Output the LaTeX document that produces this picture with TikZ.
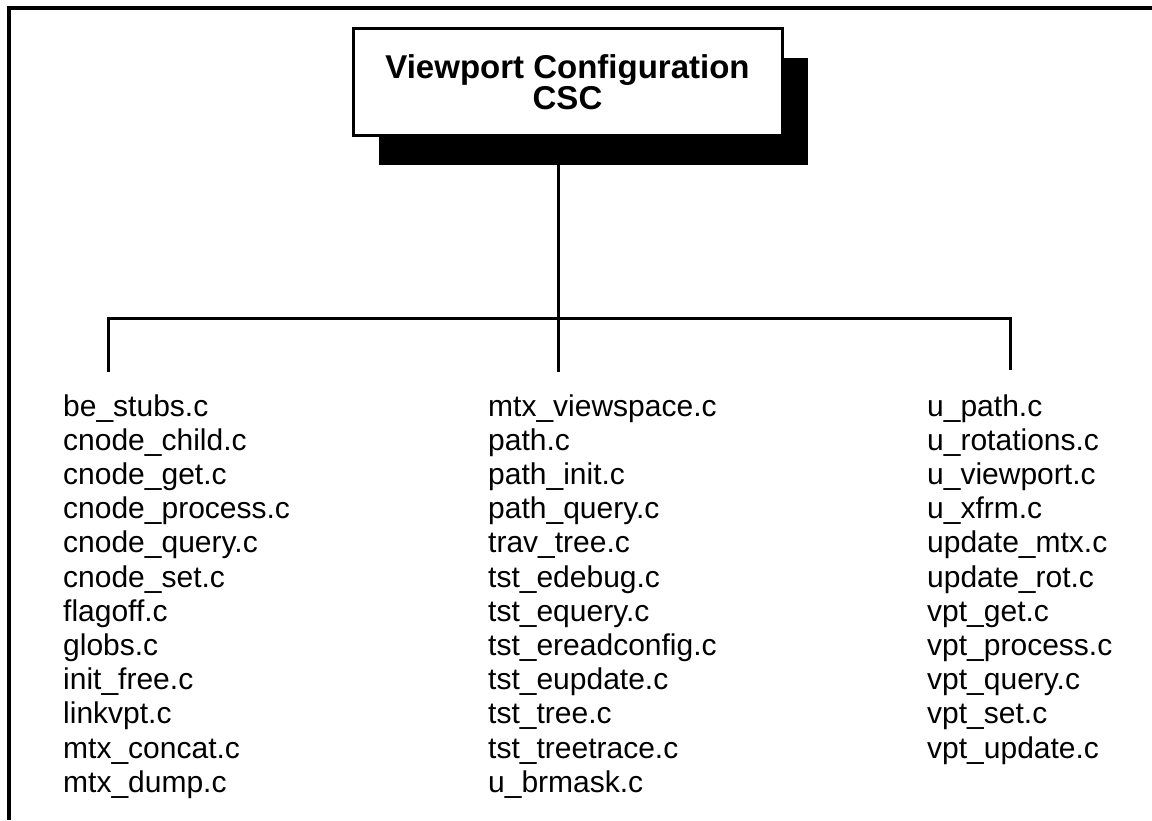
\documentclass[tikz,border=0pt]{standalone}
\usepackage{fontspec}
\setmainfont{Liberation Sans}
\usetikzlibrary{shadows}
\begin{document}
\begin{tikzpicture}[x=1pt,y=-1pt,
  frame/.style={line width=4pt, line join=miter},
  conn/.style={line width=3pt},
  titlebox/.style={draw, line width=3pt, fill=white,
    minimum width=429pt, minimum height=107pt, inner sep=0pt,
    align=center, font=\fontsize{33}{29}\selectfont\bfseries,
    general shadow={fill=black, shadow xshift=26pt, shadow yshift=-29pt}},
  filelist/.style={anchor=north west, inner sep=0pt, align=left,
    font=\fontsize{30}{34.2}\selectfont}]
\useasboundingbox (0,0) rectangle (1152,820);

% outer frame (top and left edges)
\draw[frame] (9,820) -- (9,8) -- (1152,8);

% top-level component
\node[titlebox] (box) at (567.5,82) {Viewport Configuration\\CSC};

% the three groups of source files
\node[filelist] (col1) at (63,392) {\strut be\_stubs.c\\cnode\_child.c\\cnode\_get.c\\cnode\_process.c\\cnode\_query.c\\cnode\_set.c\\flagoff.c\\globs.c\\init\_free.c\\linkvpt.c\\mtx\_concat.c\\mtx\_dump.c};
\node[filelist] (col2) at (488,392) {\strut mtx\_viewspace.c\\path.c\\path\_init.c\\path\_query.c\\trav\_tree.c\\tst\_edebug.c\\tst\_equery.c\\tst\_ereadconfig.c\\tst\_eupdate.c\\tst\_tree.c\\tst\_treetrace.c\\u\_brmask.c};
\node[filelist] (col3) at (927,392) {\strut u\_path.c\\u\_rotations.c\\u\_viewport.c\\u\_xfrm.c\\update\_mtx.c\\update\_rot.c\\vpt\_get.c\\vpt\_process.c\\vpt\_query.c\\vpt\_set.c\\vpt\_update.c};

% tree connectors
\coordinate (hub) at (558,318);
\coordinate (t1) at (108,372);
\coordinate (t2) at (558,372);
\coordinate (t3) at (1010,370);
\draw[conn] (box.south -| hub) -- (t2);
\draw[conn, line join=miter] (t1) -- (t1 |- hub) -- (t3 |- hub) -- (t3);
\end{tikzpicture}
\end{document}
